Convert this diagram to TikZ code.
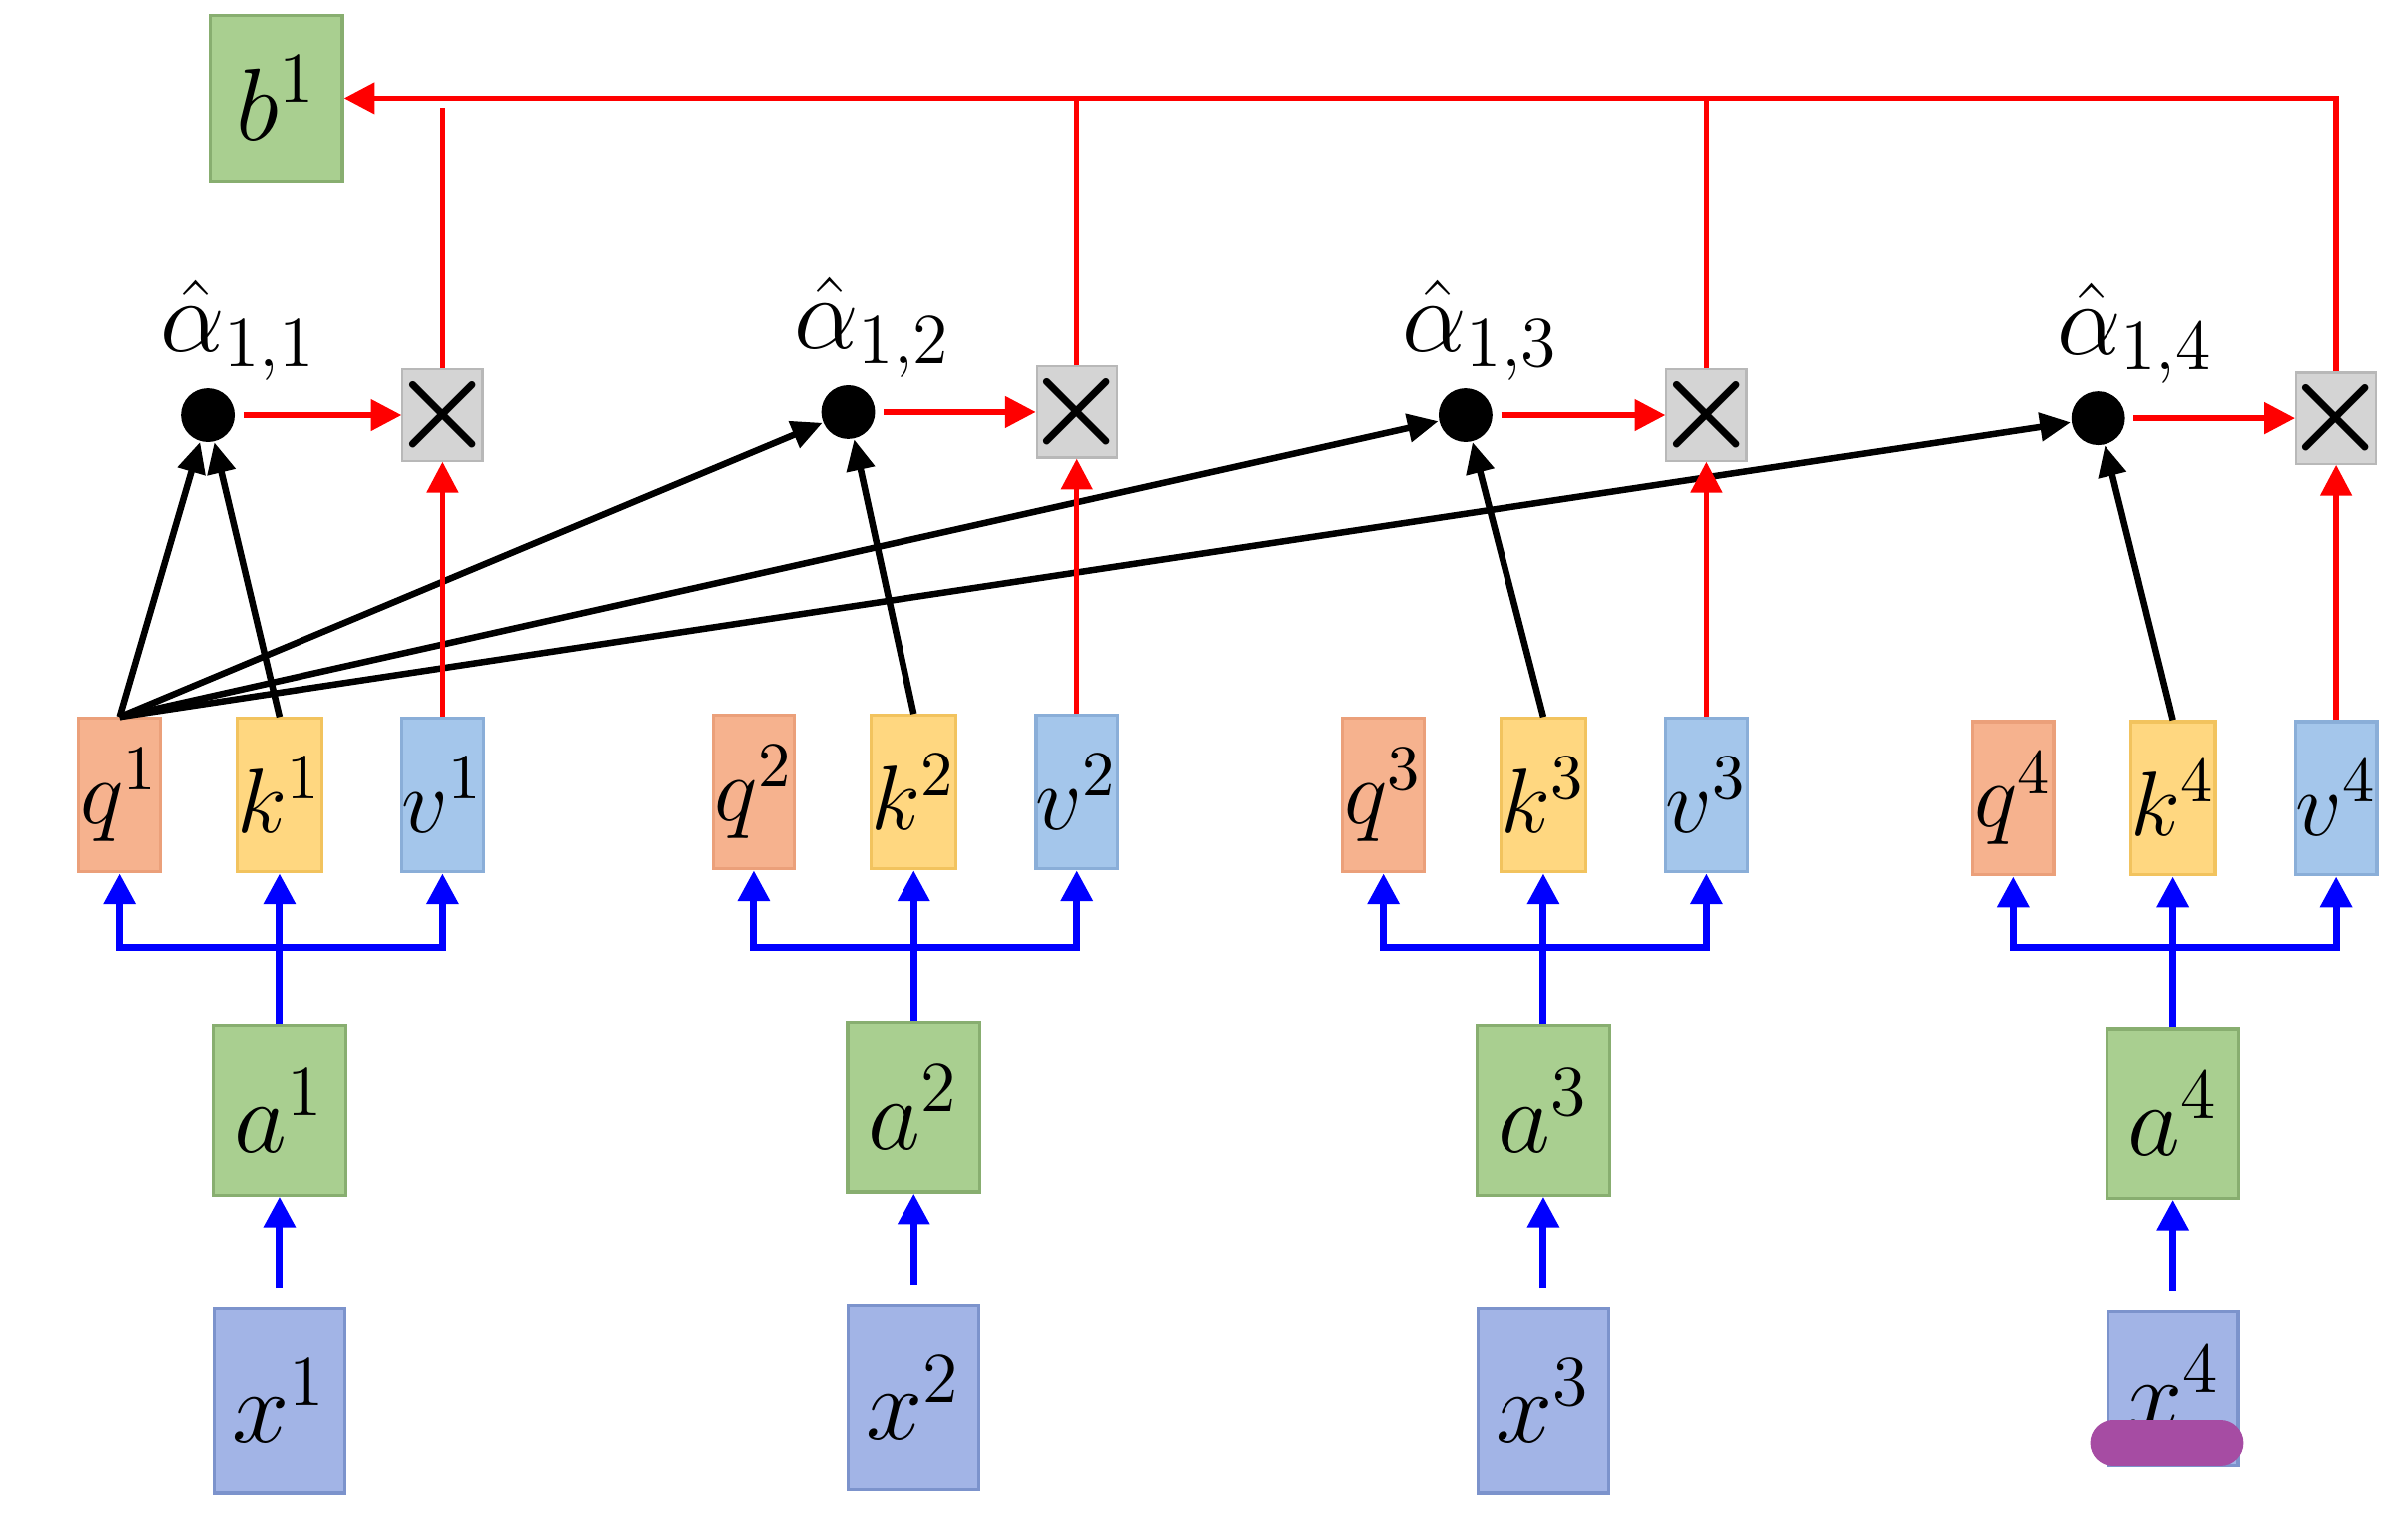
\RequirePackage{fix-cm}
\documentclass[tikz,border=0pt]{standalone}
\usepackage{amsmath, amssymb}
\usepackage{xcolor}
\usepackage{tikz}
\usetikzlibrary{arrows.meta, positioning}
\definecolor{qfill}{HTML}{F6B28E}
\definecolor{qline}{HTML}{EBA07A}
\definecolor{kfill}{HTML}{FFD780}
\definecolor{kline}{HTML}{F2C35E}
\definecolor{vfill}{HTML}{A4C6EB}
\definecolor{vline}{HTML}{8AAED8}
\definecolor{gfill}{HTML}{A9CF90}
\definecolor{gline}{HTML}{88AE70}
\definecolor{xfill}{HTML}{A2B4E6}
\definecolor{xline}{HTML}{7C93CC}
\definecolor{mulfill}{HTML}{D4D4D4}
\definecolor{mulline}{HTML}{B8B8B8}
\definecolor{marker}{HTML}{A64CA3}
\tikzset{
  vecbox/.style={draw, align=center, font=\fontsize{17}{20}\selectfont,
                 minimum width=0.53cm, minimum height=1.0cm, inner sep=0pt, line width=0.6pt},
  qbox/.style={vecbox, fill=qfill, draw=qline},
  kbox/.style={vecbox, fill=kfill, draw=kline},
  vbox/.style={vecbox, fill=vfill, draw=vline},
  embbox/.style={vecbox, fill=gfill, draw=gline, minimum width=0.86cm, minimum height=1.1cm,
                 font=\fontsize{19}{22}\selectfont},
  inbox/.style={vecbox, fill=xfill, draw=xline, minimum width=0.85cm, minimum height=1.2cm,
                font=\fontsize{19}{22}\selectfont},
  mulbox/.style={draw=mulline, fill=mulfill, minimum width=0.52cm, minimum height=0.56cm,
                 inner sep=0pt, font=\fontsize{22}{22}\selectfont},
  wdot/.style={circle, fill=black, minimum size=0.35cm, inner sep=0pt},
  wlabel/.style={font=\fontsize{19}{22}\selectfont, inner sep=1pt},
  bluearrow/.style={-{Triangle[length=2mm, width=2mm]}, line width=1.3pt, blue},
  redarrow/.style={-{Triangle[length=2mm, width=2mm]}, line width=1pt, red},
  redline/.style={line width=1pt, red},
  blackarrow/.style={-{Triangle[length=2mm, width=1.8mm]}, line width=1.2pt, black}
}
\newcommand{\mulsign}{\makebox[0pt]{$\boldsymbol{\times}$}}

\begin{document}
\begin{tikzpicture}[x=0.01cm, y=-0.01cm]
\useasboundingbox (0,0) rectangle (1568,985);

% Output
\node[embbox, minimum height=1.08cm] (b1) at (180,64) {$b^1$};

% Keys and their q, v neighbours
\node[kbox] (k1) at (182,518) {$k^1$};
\node[qbox, left=0.48cm of k1]  (q1) {$q^1$};
\node[vbox, right=0.5cm of k1]  (v1) {$v^1$};
\node[kbox] (k2) at (595,516) {$k^2$};
\node[qbox, left=0.48cm of k2]  (q2) {$q^2$};
\node[vbox, right=0.5cm of k2]  (v2) {$v^2$};
\node[kbox] (k3) at (1005,518) {$k^3$};
\node[qbox, left=0.48cm of k3]  (q3) {$q^3$};
\node[vbox, right=0.5cm of k3]  (v3) {$v^3$};
\node[kbox] (k4) at (1415,520) {$k^4$};
\node[qbox, left=0.48cm of k4]  (q4) {$q^4$};
\node[vbox, right=0.5cm of k4]  (v4) {$v^4$};

% Inputs
\node[embbox, below=0.98cm of k1] (a1) {$a^1$};
\node[inbox, below=0.72cm of a1]  (x1) {$x^1$};
\node[embbox, below=0.98cm of k2] (a2) {$a^2$};
\node[inbox, below=0.72cm of a2]  (x2) {$x^2$};
\node[embbox, below=0.98cm of k3] (a3) {$a^3$};
\node[inbox, below=0.72cm of a3]  (x3) {$x^3$};
\node[embbox, below=0.98cm of k4] (a4) {$a^4$};
\node[inbox, below=0.72cm of a4, minimum height=1.0cm] (x4) {$x^4$};

% Weights and products
\node[mulbox, above=1.66cm of v1] (mul1) {\mulsign};
\node[wdot, left=1.08cm of mul1]  (al1) {};
\node[mulbox, above=1.66cm of v2] (mul2) {\mulsign};
\node[wdot, left=1.04cm of mul2]  (al2) {};
\node[mulbox, above=1.66cm of v3] (mul3) {\mulsign};
\node[wdot, left=1.12cm of mul3]  (al3) {};
\node[mulbox, above=1.66cm of v4] (mul4) {\mulsign};
\node[wdot, left=1.10cm of mul4]  (al4) {};

\node[wlabel, above=0pt of al1, xshift=0.2cm]  (t1) {$\hat{\alpha}_{1,1}$};
\node[wlabel, above=0pt of al2, xshift=0.16cm] (t2) {$\hat{\alpha}_{1,2}$};
\node[wlabel, above=0pt of al3, xshift=0.1cm]  (t3) {$\hat{\alpha}_{1,3}$};
\node[wlabel, above=0pt of al4, xshift=0.24cm] (t4) {$\hat{\alpha}_{1,4}$};

\coordinate (s1) at (a1.north |- 0,617);
\coordinate (s2) at (a2.north |- 0,617);
\coordinate (s3) at (a3.north |- 0,617);
\coordinate (s4) at (a4.north |- 0,617);
\coordinate (top1) at (mul1.north |- 0,70);

% Blue arrows
\draw[bluearrow, shorten <=0.12cm] (x1.north) -- (a1.south);
\draw[bluearrow, shorten <=0.12cm] (x2.north) -- (a2.south);
\draw[bluearrow, shorten <=0.12cm] (x3.north) -- (a3.south);
\draw[bluearrow, shorten <=0.12cm] (x4.north) -- (a4.south);
\draw[bluearrow] (a1.north) -- (k1.south);
\draw[bluearrow] (s1) -| (q1.south);
\draw[bluearrow] (s1) -| (v1.south);
\draw[bluearrow] (a2.north) -- (k2.south);
\draw[bluearrow] (s2) -| (q2.south);
\draw[bluearrow] (s2) -| (v2.south);
\draw[bluearrow] (a3.north) -- (k3.south);
\draw[bluearrow] (s3) -| (q3.south);
\draw[bluearrow] (s3) -| (v3.south);
\draw[bluearrow] (a4.north) -- (k4.south);
\draw[bluearrow] (s4) -| (q4.south);
\draw[bluearrow] (s4) -| (v4.south);

% Attention scores
\draw[blackarrow] (q1.north) -- (al1);
\draw[blackarrow] (q1.north) -- (al2);
\draw[blackarrow] (q1.north) -- (al3);
\draw[blackarrow] (q1.north) -- (al4);
\draw[blackarrow] (k1.north) -- (al1);
\draw[blackarrow] (k2.north) -- (al2);
\draw[blackarrow] (k3.north) -- (al3);
\draw[blackarrow] (k4.north) -- (al4);

% Weighted sum
\draw[redarrow, shorten <=0.05cm] (al1) -- (mul1);
\draw[redarrow, shorten <=0.05cm] (al2) -- (mul2);
\draw[redarrow, shorten <=0.05cm] (al3) -- (mul3);
\draw[redarrow, shorten <=0.05cm] (al4) -- (mul4);
\draw[redarrow] (v1) -- (mul1);
\draw[redarrow] (v2) -- (mul2);
\draw[redarrow] (v3) -- (mul3);
\draw[redarrow] (v4) -- (mul4);
\draw[redline] (mul1.north) -- (top1);
\draw[redline] (mul2.north) -- (mul2.north |- b1.east);
\draw[redline] (mul3.north) -- (mul3.north |- b1.east);
\draw[redarrow] (mul4.north) |- (b1.east);

% Highlighter stroke
\draw[line width=0.3cm, line cap=round, marker] (1376,940) -- (1446,940);

\end{tikzpicture}
\end{document}
